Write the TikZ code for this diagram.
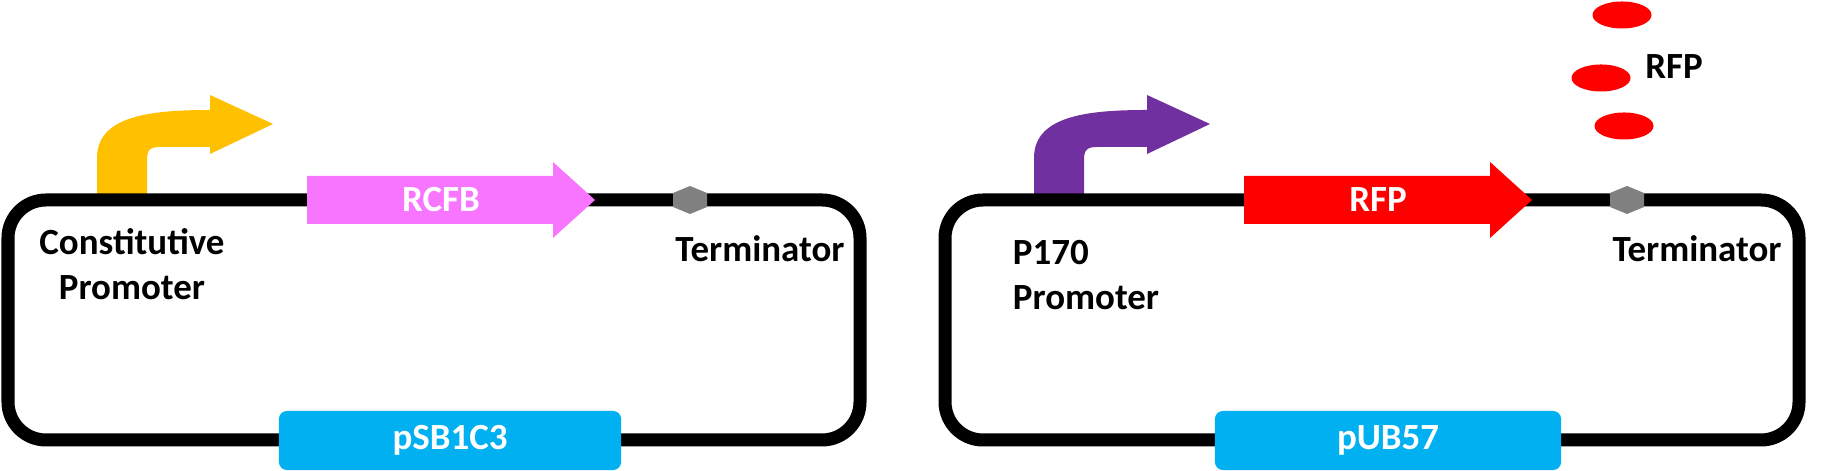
\documentclass[tikz,border=0pt]{standalone}
\usepackage{fontspec}
\setmainfont{Carlito}
\usetikzlibrary{shapes.geometric, positioning}
\definecolor{promyellow}{RGB}{255,192,0}
\definecolor{prompurple}{RGB}{112,48,160}
\definecolor{cdspink}{RGB}{248,118,255}
\definecolor{cdsred}{RGB}{255,0,0}
\definecolor{bbblue}{RGB}{0,176,240}
\definecolor{termgray}{RGB}{128,128,128}

\begin{document}
\begin{tikzpicture}[x=0.01cm, y=-0.01cm,
    loopline/.style={line width=0.13cm, rounded corners=0.38cm},
    lbl/.style={font=\bfseries\fontsize{10.5}{12.8}\selectfont, inner sep=0pt},
    inlbl/.style={lbl, text=white},
    backbone/.style={fill=bbblue, rounded corners=0.08cm, minimum width=#1, minimum height=0.59cm, inner sep=0pt, text=white, font=\bfseries\fontsize{10.5}{12.8}\selectfont},
    prot/.style={ellipse, fill=cdsred, minimum width=0.59cm, minimum height=0.27cm, inner sep=0pt}
]
    \useasboundingbox (0,0) rectangle (1843,471);

    % Left plasmid
    \fill[promyellow] (97,200) -- (97,158) .. controls (97,116) and (150,110) .. (210,110)
        -- (210,95) -- (273,124) -- (210,154) -- (210,147) -- (160,147)
        .. controls (150,147) and (147,150) .. (147,160) -- (147,200) -- cycle;
    \draw[loopline] (8,200) rectangle (860,440);
    \fill[cdspink] (307,176) -- (553,176) -- (553,162) -- (595,200) -- (553,238) -- (553,224) -- (307,224) -- cycle;
    \node[inlbl] (rcfb) at (441,200) {RCFB};
    \fill[termgray] (690,186) -- (707,193) -- (707,207) -- (690,214) -- (673,207) -- (673,193) -- cycle;
    \node[lbl, anchor=base] (term1) at (760,262) {Terminator};
    \node[lbl, align=center] (prom1) at (132,264) {Constitutive\\Promoter};
    \node[backbone=3.42cm] (psb) at (450,440.5) {pSB1C3};

    % Right plasmid
    \fill[prompurple] (1034,200) -- (1034,158) .. controls (1034,116) and (1087,110) .. (1147,110)
        -- (1147,95) -- (1210,124) -- (1147,154) -- (1147,147) -- (1097,147)
        .. controls (1087,147) and (1084,150) .. (1084,160) -- (1084,200) -- cycle;
    \draw[loopline] (945,200) rectangle (1799,440);
    \fill[cdsred] (1244,176) -- (1490,176) -- (1490,162) -- (1532,200) -- (1490,238) -- (1490,224) -- (1244,224) -- cycle;
    \node[inlbl] (rfpgene) at (1378,200) {RFP};
    \fill[termgray] (1627,186) -- (1644,193) -- (1644,207) -- (1627,214) -- (1610,207) -- (1610,193) -- cycle;
    \node[lbl, anchor=base] (term2) at (1697,262) {Terminator};
    \node[lbl, align=left] (prom2) at (1086,275) {P170\\Promoter};
    \node[backbone=3.46cm] (pub) at (1388,440.5) {pUB57};

    % Expressed protein
    \node[prot] (rfp1) at (1622,15) {};
    \node[prot] (rfp2) at (1601,78) {};
    \node[prot] (rfp3) at (1624,126) {};
    \node[lbl, anchor=base] (rfplbl) at (1674,79) {RFP};
\end{tikzpicture}
\end{document}
